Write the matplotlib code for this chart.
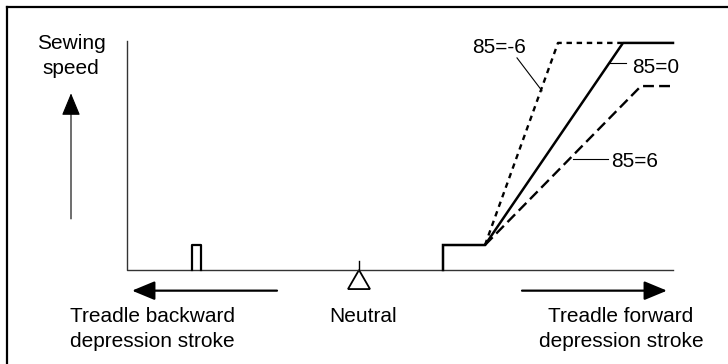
import matplotlib
matplotlib.use("Agg")
import matplotlib.pyplot as plt
from matplotlib.lines import Line2D
from matplotlib.patches import FancyArrowPatch

plt.rcParams["font.family"] = ["Liberation Sans", "DejaVu Sans"]

# Pedal stroke (neutral = 0) vs. sewing speed (max = 100)
pulse_x = [-16.7, -16.7, -15.8, -15.8]
pulse_y = [0, 11, 11, 0]

solid_x = [8.4, 8.4, 12.6, 26.4, 31.4]      # 85=0
solid_y = [0, 11, 11, 100, 100]
dotted_x = [12.6, 19.9, 26.3]               # 85=-6
dotted_y = [11, 100, 100]
dashed_x = [12.6, 28.2, 31.4]               # 85=6
dashed_y = [11, 81, 81]

axis_left = -23.2
axis_right = 31.4
axis_top = 101
neutral_x = 0

fig = plt.figure(figsize=(7.28, 3.64), dpi=100)
ax = fig.add_axes([0, 0, 1, 1])
ax.set_xlim(-35.9, 36.9)
ax.set_ylim(-41.4, 118.9)
ax.axis("off")

# frame (only top and left edges are visible in the reference)
fig.add_artist(Line2D([7 / 728, 7 / 728], [0, 1 - 7 / 364], color="black", lw=1.6,
                      transform=fig.transFigure))
fig.add_artist(Line2D([7 / 728, 1], [1 - 7 / 364, 1 - 7 / 364], color="black", lw=1.6,
                      transform=fig.transFigure))

# axes lines
ax.plot([axis_left, axis_left, axis_right], [axis_top, 0, 0], color="#333333", lw=1.0)

# curves
ax.plot(pulse_x, pulse_y, color="black", lw=1.6)
ax.plot(solid_x, solid_y, color="black", lw=1.8, solid_joinstyle="miter")
ax.plot(dotted_x, dotted_y, color="black", lw=1.7, dashes=(2.3, 2.0))
ax.plot(dashed_x, dashed_y, color="black", lw=1.7, dashes=(4.6, 2.2))

# neutral marker
ax.plot([neutral_x, neutral_x], [0, 4.0], color="black", lw=1.0)
ax.fill([neutral_x - 1.1, neutral_x, neutral_x + 1.1], [-8.4, 0, -8.4],
        facecolor="white", edgecolor="black", lw=1.3)


def arrow(p0, p1, lw):
    ax.add_patch(FancyArrowPatch(p0, p1, arrowstyle="-|>,head_length=14,head_width=5.8",
                                 mutation_scale=1, lw=lw, color="black",
                                 shrinkA=0, shrinkB=0))


arrow((-28.8, 22.5), (-28.8, 77.8), 0.8)
arrow((-8.2, -9.1), (-22.7, -9.1), 1.6)
arrow((16.3, -9.1), (30.8, -9.1), 1.6)

fs = 15
ax.text(-28.8, 97.2, "Sewing", ha="center", va="baseline", fontsize=fs)
ax.text(-28.8, 86.3, "speed", ha="center", va="baseline", fontsize=fs)
ax.text(-20.7, -22.8, "Treadle backward", ha="center", va="baseline", fontsize=fs)
ax.text(-20.7, -33.8, "depression stroke", ha="center", va="baseline", fontsize=fs)
ax.text(0.4, -22.8, "Neutral", ha="center", va="baseline", fontsize=fs)
ax.text(26.2, -22.8, "Treadle forward", ha="center", va="baseline", fontsize=fs)
ax.text(26.2, -33.8, "depression stroke", ha="center", va="baseline", fontsize=fs)

# curve labels with leader lines
ax.text(14.0, 95.5, "85=-6", ha="center", va="baseline", fontsize=fs)
ax.plot([15.8, 18.3], [93.4, 78.9], color="black", lw=0.8)
ax.text(27.3, 86.9, "85=0", ha="left", va="baseline", fontsize=fs)
ax.plot([24.9, 26.7], [91.1, 91.1], color="black", lw=0.8)
ax.text(25.2, 45.5, "85=6", ha="left", va="baseline", fontsize=fs)
ax.plot([21.4, 24.9], [48.8, 48.8], color="black", lw=0.8)

fig.savefig("out.png", dpi=100, facecolor="white")
